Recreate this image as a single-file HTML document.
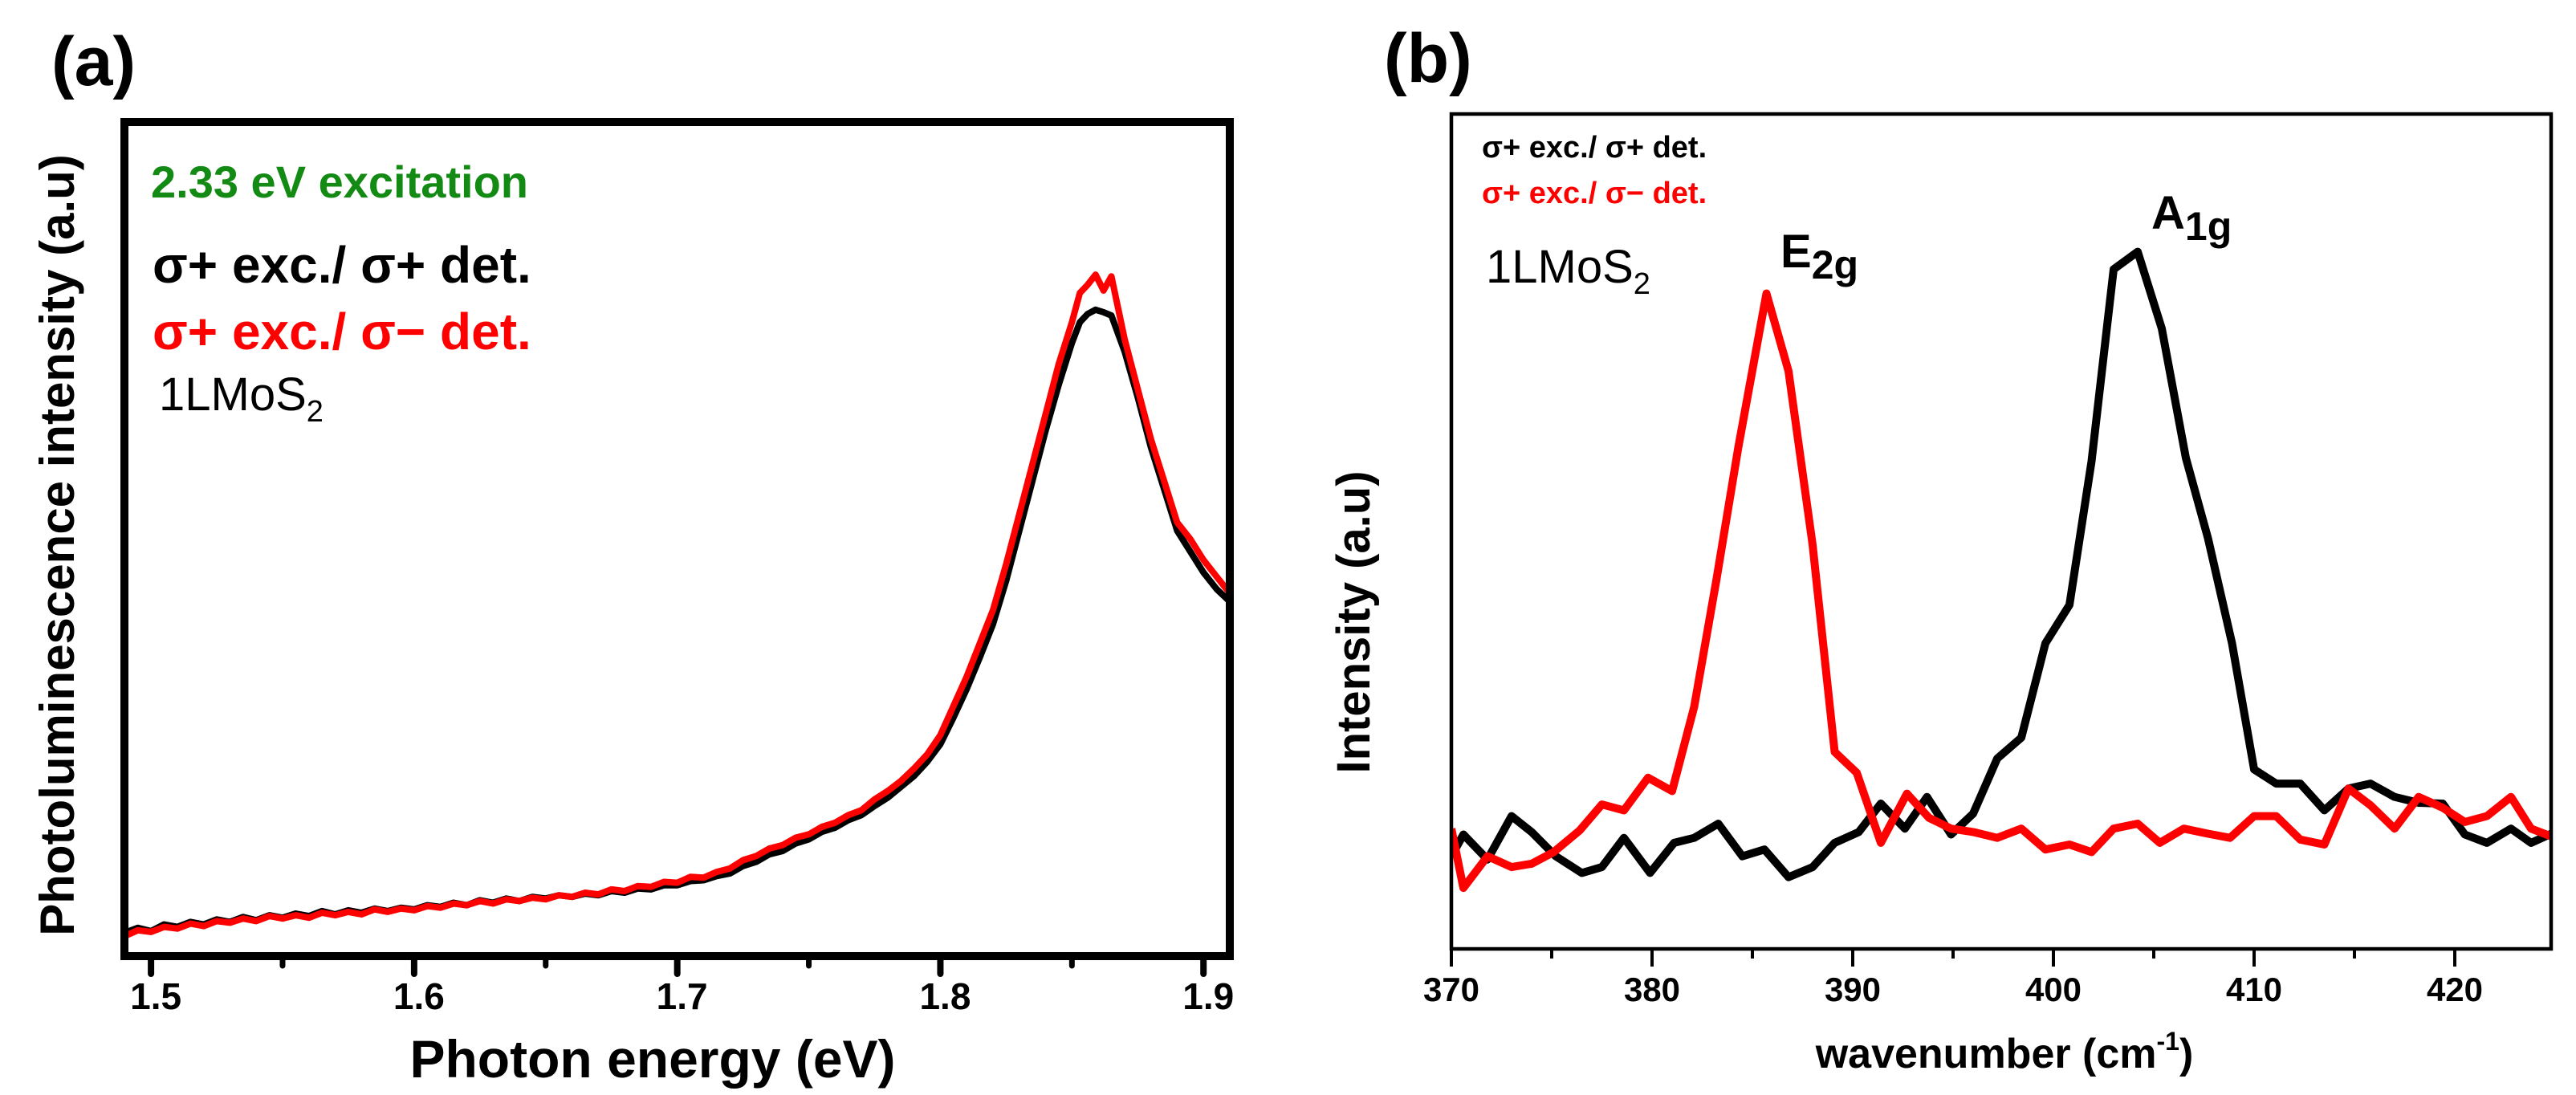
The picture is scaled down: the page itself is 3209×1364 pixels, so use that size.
<!DOCTYPE html>
<html><head><meta charset="utf-8"><style>
html,body{margin:0;padding:0;background:#fff;}
svg{display:block;font-family:"Liberation Sans",sans-serif;}
</style></head><body>
<svg id="fig" width="3209" height="1364" viewBox="0 0 3209 1364" xmlns="http://www.w3.org/2000/svg">
<rect width="3209" height="1364" fill="#fff"/>
<text x="64" y="106" font-size="86" font-weight="bold">(a)</text>
<text x="1724" y="102" font-size="86" font-weight="bold">(b)</text>
<g id="pa"></g>
<g id="pb"></g>
<text x="188" y="246" font-size="56" font-weight="bold" fill="#138a13">2.33 eV excitation</text>
<text x="190" y="352" font-size="64" font-weight="bold" fill="#000">σ+ exc./ σ+ det.</text>
<text x="190" y="435" font-size="64" font-weight="bold" fill="#f00">σ+ exc./ σ− det.</text>
<text x="198" y="511" font-size="58" fill="#000">1LMoS<tspan font-size="38" dy="14">2</tspan></text>
<text x="813" y="1342" font-size="66" font-weight="bold" text-anchor="middle">Photon energy (eV)</text>
<text transform="translate(92,679) rotate(-90)" font-size="60" font-weight="bold" text-anchor="middle">Photoluminescence intensity (a.u)</text>
<text x="1846" y="196" font-size="38" font-weight="bold" fill="#000">σ+ exc./ σ+ det.</text>
<text x="1846" y="253" font-size="38" font-weight="bold" fill="#f00">σ+ exc./ σ− det.</text>
<text x="1851" y="352" font-size="58" fill="#000">1LMoS<tspan font-size="38" dy="14">2</tspan></text>
<text x="2218" y="333" font-size="58" font-weight="bold">E<tspan font-size="50" dy="14">2g</tspan></text>
<text x="2680" y="285" font-size="58" font-weight="bold">A<tspan font-size="50" dy="14">1g</tspan></text>
<text x="2497" y="1330" font-size="52" font-weight="bold" text-anchor="middle">wavenumber (cm<tspan font-size="32" dy="-22">-1</tspan><tspan dy="22">)</tspan></text>
<text transform="translate(1706,775) rotate(-90)" font-size="58" font-weight="bold" text-anchor="middle">Intensity (a.u)</text>
</svg>
<script>
const NS='http://www.w3.org/2000/svg';
// Panel (a) data
const plEnergy=[1.49,1.495,1.50,1.505,1.51,1.515,1.52,1.525,1.53,1.535,1.54,1.545,1.55,1.555,1.56,1.565,1.57,1.575,1.58,1.585,1.59,1.595,1.60,1.605,1.61,1.615,1.62,1.625,1.63,1.635,1.64,1.645,1.65,1.655,1.66,1.665,1.67,1.675,1.68,1.685,1.69,1.695,1.70,1.705,1.71,1.715,1.72,1.725,1.73,1.735,1.74,1.745,1.75,1.755,1.76,1.765,1.77,1.775,1.78,1.785,1.79,1.795,1.80,1.805,1.81,1.815,1.82,1.825,1.83,1.835,1.84,1.845,1.85,1.853,1.856,1.859,1.862,1.865,1.87,1.875,1.88,1.885,1.89,1.895,1.90,1.905,1.91];
const plCross=[2.4,3.1,2.9,3.5,3.3,3.9,3.6,4.2,4.0,4.5,4.2,4.8,4.5,4.9,4.6,5.2,4.9,5.3,5.0,5.6,5.3,5.7,5.5,6.0,5.8,6.3,6.1,6.6,6.3,6.8,6.6,7.0,6.8,7.3,7.1,7.6,7.4,8.0,7.8,8.4,8.3,8.9,8.8,9.5,9.4,10.1,10.5,11.5,12.0,12.9,13.3,14.2,14.6,15.5,16.0,16.9,17.5,18.8,19.8,21.0,22.5,24.2,26.5,30.0,33.5,37.5,41.5,47.0,53.0,59.0,65.0,71.0,76.0,79.5,80.5,81.7,79.8,81.5,74.0,68.0,62.0,57.0,52.0,50.0,47.5,45.5,43.5];
const plSame=[2.8,3.4,3.0,3.8,3.5,4.1,3.8,4.4,4.1,4.7,4.3,4.9,4.6,5.1,4.8,5.4,5.0,5.5,5.2,5.7,5.4,5.8,5.6,6.1,5.9,6.4,6.1,6.7,6.4,6.9,6.6,7.1,6.9,7.3,7.1,7.5,7.3,7.8,7.6,8.1,8.0,8.5,8.5,9.0,9.1,9.6,9.9,10.8,11.3,12.2,12.6,13.5,14.0,14.9,15.4,16.3,16.9,18.0,19.0,20.3,21.6,23.3,25.4,28.6,32.0,35.8,39.8,45.0,51.0,57.0,63.0,68.5,73.5,76.0,77.0,77.5,77.2,76.8,72.5,67.0,61.0,56.0,51.0,48.5,46.0,44.0,42.5];
const aTicks=[1.5,1.6,1.7,1.8,1.9];
const aMinor=[1.55,1.65,1.75,1.85];
// Panel (b) data
const ramanWave=[370,370.6,371.8,373,374,375.1,376.4,377.5,378.6,379.8,381,382.1,383.2,384.3,385.7,386.8,388,389.1,390.2,391.4,392.7,393.8,394.9,396,397.2,398.4,399.6,400.8,401.9,403,404.2,405.3,406.5,407.7,408.8,410,411.1,412.3,413.5,414.7,415.8,417,418.2,419.4,420.5,421.6,422.8,423.8,425];
const ramanCross=[14.4,7.3,11.1,9.8,10.2,11.6,14.2,17.3,16.6,20.5,18.9,29.0,44.1,60.1,78.5,69.2,48.4,23.6,21.1,12.7,18.6,15.7,14.4,14.0,13.3,14.4,11.9,12.5,11.6,14.4,15.0,12.7,14.4,13.8,13.3,15.9,15.9,13.1,12.5,19.2,17.2,14.4,18.2,16.9,15.2,15.9,18.2,14.4,13.3];
const ramanWaveB=[370,370.6,371.8,373,374,375.2,376.5,377.5,378.6,379.9,381.1,382.1,383.3,384.5,385.6,386.8,388,389.1,390.3,391.4,392.6,393.7,394.9,396,397.2,398.4,399.6,400.8,401.9,403,404.2,405.4,406.6,407.7,408.9,410,411.1,412.3,413.5,414.7,415.8,417,418.2,419.4,420.5,421.6,422.8,423.8,425];
const ramanSame=[11.1,13.7,10.7,15.9,14.0,11.1,9.1,9.8,13.3,9.1,12.7,13.3,15.0,11.1,11.9,8.6,9.8,12.7,14.0,17.4,14.4,18.2,13.7,16.2,22.8,25.3,36.6,41.2,58.4,81.4,83.5,74.3,58.8,49.2,36.6,21.5,19.8,19.8,16.6,19.2,19.8,18.2,17.5,17.4,13.7,12.7,14.4,12.7,14.0];
const bTicks=[370,380,390,400,410,420];
const bMinor=[375,385,395,405,415];

function mk(tag,attrs,parent){const e=document.createElementNS(NS,tag);for(const k in attrs)e.setAttribute(k,attrs[k]);parent.appendChild(e);return e;}

const A={l:155,r:1532,t:152,b:1191,x0:1.4899,x1:1.910};
const ax=v=>A.l+(v-A.x0)/(A.x1-A.x0)*(A.r-A.l);
const ay=v=>A.b-v/100*(A.b-A.t);
const pa=document.getElementById('pa');
function line(xs,ys,fx,fy,color,w,name,g){
  const d=xs.map((x,i)=>(i?'L':'M')+fx(x).toFixed(1)+' '+fy(ys[i]).toFixed(1)).join(' ');
  const p=mk('path',{d:d,fill:'none',stroke:color,'stroke-width':w,'stroke-linejoin':'round'},g);
  
  
}
line(plEnergy,plSame,ax,ay,'#000',8,'series-same-polarization',pa);
line(plEnergy,plCross,ax,ay,'#f00',8,'series-cross-polarization',pa);
const fa=mk('rect',{x:A.l,y:A.t,width:A.r-A.l,height:A.b-A.t,fill:'none',stroke:'#000','stroke-width':10},pa);


aTicks.forEach(v=>{
  const t=mk('line',{x1:ax(v),x2:ax(v),y1:A.b,y2:A.b+22,stroke:'#000','stroke-width':8,'stroke-linecap':'round'},pa);
  
  
  const lb=mk('text',{x:ax(v)+6,y:1257,'font-size':46,'font-weight':'bold','text-anchor':'middle'},pa);
  lb.textContent=v.toFixed(1);
  
  
});
aMinor.forEach(v=>{
  const t=mk('line',{x1:ax(v),x2:ax(v),y1:A.b,y2:A.b+12,stroke:'#000','stroke-width':7,'stroke-linecap':'round'},pa);
  
  
});

const B={l:1808,r:3178,t:142,b:1182,x0:370,x1:424.8};
const bx=v=>B.l+(v-B.x0)/(B.x1-B.x0)*(B.r-B.l);
const by=v=>B.b-v/100*(B.b-B.t);
const pb=document.getElementById('pb');
const clip=mk('clipPath',{id:'cb'},pb);mk('rect',{x:B.l,y:B.t,width:B.r-B.l,height:B.b-B.t},clip);
const gb=mk('g',{'clip-path':'url(#cb)'},pb);
line(ramanWaveB,ramanSame,bx,by,'#000',10,'raman-same-polarization',gb);
line(ramanWave,ramanCross,bx,by,'#f00',10,'raman-cross-polarization',gb);
const fb=mk('rect',{x:B.l,y:B.t,width:B.r-B.l,height:B.b-B.t,fill:'none',stroke:'#000','stroke-width':4.5},pb);


bTicks.forEach(v=>{
  const t=mk('line',{x1:bx(v),x2:bx(v),y1:B.b,y2:B.b+22,stroke:'#000','stroke-width':4},pb);
  
  
  const lb=mk('text',{x:bx(v),y:1247,'font-size':42,'font-weight':'bold','text-anchor':'middle'},pb);
  lb.textContent=String(v);
  
  
});
bMinor.forEach(v=>{
  const t=mk('line',{x1:bx(v),x2:bx(v),y1:B.b,y2:B.b+12,stroke:'#000','stroke-width':4},pb);
  
  
});
</script>
</body></html>
